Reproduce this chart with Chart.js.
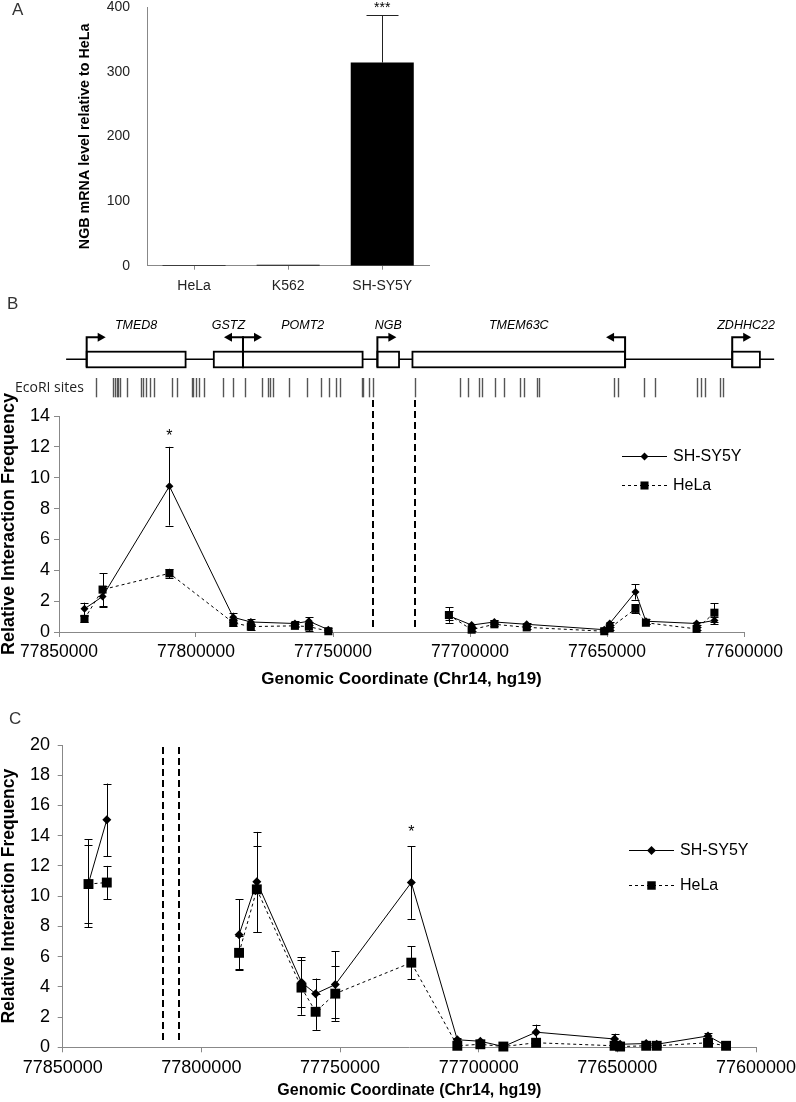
<!DOCTYPE html>
<html><head><meta charset="utf-8">
<script src="https://cdn.jsdelivr.net/npm/chart.js@4/dist/chart.umd.min.js"></script>
<style>
html,body{margin:0;padding:0;background:#fff;}
#wrap{position:relative;width:796px;height:1102px;overflow:hidden;font-family:"Liberation Sans",Arial,sans-serif;}
canvas{position:absolute;}
.lbl{position:absolute;font-size:17px;color:#333;line-height:1;}
</style></head><body>
<div id="wrap">
<canvas id="cA" style="left:0;top:0;width:440px;height:300px" width="440" height="300"></canvas>
<canvas id="cB" style="left:0;top:290px;width:796px;height:410px" width="796" height="410"></canvas>
<canvas id="cC" style="left:0;top:700px;width:796px;height:402px" width="796" height="402"></canvas>
<div class="lbl" style="left:12px;top:1px">A</div>
<div class="lbl" style="left:7px;top:295px">B</div>
<div class="lbl" style="left:9px;top:710px">C</div>
</div>
<script>
// ---------- Panel A data ----------
const cellLines = ['HeLa', 'K562', 'SH-SY5Y'];
const ngbLevel = [1, 1.6, 314];
const ngbErr = [0, 0, 73.5];

// ---------- Gene map (Chr14, hg19) ----------
const locus = [77847400, 77589000];
const geneNames = ['TMED8', 'GSTZ', 'POMT2', 'NGB', 'TMEM63C', 'ZDHHC22'];
const geneStart = [77839900, 77793500, 77782850, 77733800, 77721000, 77604300];
const geneEnd   = [77803800, 77782850, 77739200, 77725900, 77643400, 77594200];
const geneTSS   = [77839900, 77782850, 77782850, 77733800, 77643400, 77604300];
const geneStrand = ['-', '+', '-', '-', '+', '-'];
const ecoRISites = [77836500, 77830180, 77829560, 77828940, 77828360, 77827740, 77825290,
  77820070, 77819230, 77818250, 77816790, 77815330, 77808870, 77807040, 77801570, 77800990,
  77800000, 77798800, 77797080, 77790260, 77786390, 77782120, 77775800, 77773610, 77772990,
  77771790, 77765950, 77759380, 77754490, 77751350, 77748910, 77747450, 77739530, 77738940,
  77736750, 77735290, 77720070, 77703650, 77700620, 77696610, 77695730, 77690880, 77687590,
  77681750, 77680180, 77675660, 77674710, 77647450, 77645880, 77636500, 77632480, 77617050,
  77615700, 77614240, 77608760, 77607560];

// ---------- 3C fragments ----------
const fragments = [77840700, 77834100, 77809700, 77786400, 77780000, 77763900, 77758800,
  77751700, 77724300, 77707700, 77699400, 77691100, 77679300, 77651000, 77649000, 77639600,
  77635800, 77617300, 77610800];

// Panel B (NGB bait)
const baitB = [77735290, 77720070];
const shB      = [1.5, 2.3, 9.45, 0.95, 0.65, 0.55, 0.7, 0.15, null, 1.05, 0.45, 0.65, 0.5, 0.15, 0.55, 2.6, 0.7, 0.55, 0.75];
const shBErr   = [0.4, 0.65, 2.55, 0.3, 0.2, 0.15, 0.25, 0.1, null, 0.3, 0.1, 0.1, 0.1, 0.1, 0.1, 0.5, 0.15, 0.1, 0.25];
const helaB    = [0.85, 2.75, 3.8, 0.6, 0.35, 0.4, 0.35, 0.05, null, 1.1, 0.15, 0.5, 0.3, 0.05, 0.25, 1.5, 0.6, 0.2, 1.25];
const helaBErr = [0.2, 1.05, 0.3, 0.2, 0.2, 0.1, 0.3, 0.05, null, 0.5, 0.1, 0.1, 0.1, 0.05, 0.1, 0.3, 0.1, 0.1, 0.6];

// Panel C (second bait)
const baitC = [77813700, 77807950];
const shC      = [10.85, 15.05, null, 7.45, 10.95, 4.3, 3.55, 4.15, 10.9, 0.5, 0.4, 0.05, 1.0, 0.55, 0.2, 0.25, 0.2, 0.75, 0.1];
const shCErr   = [2.9, 2.4, null, 2.35, 3.3, 1.65, 1.0, 2.2, 2.4, 0.1, 0.1, 0.05, 0.5, 0.35, 0.1, 0.1, 0.1, 0.2, 0.05];
const helaC    = [10.8, 10.9, null, 6.25, 10.45, 3.95, 2.35, 3.55, 5.6, 0.1, 0.2, 0.05, 0.3, 0.1, 0.05, 0.1, 0.1, 0.3, 0.1];
const helaCErr = [2.6, 1.1, null, 1.1, 2.85, 1.8, 1.2, 1.8, 1.1, 0.05, 0.05, 0.05, 0.1, 0.05, 0.05, 0.05, 0.05, 0.1, 0.05];

const coordTicks = [77600000, 77650000, 77700000, 77750000, 77800000, 77850000];

// ---------- helpers ----------
const FONT = '"Liberation Sans", Arial, sans-serif';
Chart.defaults.font.family = FONT;
Chart.defaults.color = '#000';

function fixBox(s, w, h) {
  if (w != null) s.width = w;
  if (h != null) s.height = h;
  s.paddingLeft = 0; s.paddingRight = 0; s.paddingTop = 0; s.paddingBottom = 0;
}

function markerPath(ctx, style, r, x, y) {
  ctx.beginPath();
  if (style === 'rectRot') {
    ctx.moveTo(x, y - r); ctx.lineTo(x + r, y); ctx.lineTo(x, y + r); ctx.lineTo(x - r, y); ctx.closePath();
  } else {
    const s = r * Math.SQRT1_2;
    ctx.rect(x - s, y - s, 2 * s, 2 * s);
  }
}

const errorBars = {
  id: 'errorBars',
  afterDatasetsDraw(chart, args, o) {
    if (!o.enabled) return;
    const {ctx} = chart; const ys = chart.scales.y;
    ctx.save();
    ctx.strokeStyle = o.color || '#000'; ctx.lineWidth = 1; ctx.setLineDash([]);
    chart.data.datasets.forEach((ds, i) => {
      const meta = chart.getDatasetMeta(i);
      meta.data.forEach((el, j) => {
        let v, e;
        if (o.bar) { v = ds.data[j]; e = ds.errors[j]; }
        else { v = ds.data[j].y; e = ds.data[j].err; }
        if (v == null || !e) return;
        const x = Math.round(el.x) + 0.5;
        const yT = ys.getPixelForValue(v + e);
        const yB = o.plusOnly ? ys.getPixelForValue(v) : ys.getPixelForValue(v - e);
        ctx.beginPath();
        ctx.moveTo(x, yT); ctx.lineTo(x, yB);
        ctx.moveTo(x - o.cap, Math.round(yT) + 0.5); ctx.lineTo(x + o.cap, Math.round(yT) + 0.5);
        if (!o.plusOnly) { ctx.moveTo(x - o.cap, Math.round(yB) + 0.5); ctx.lineTo(x + o.cap, Math.round(yB) + 0.5); }
        ctx.stroke();
      });
    });
    ctx.restore();
  }
};

const stars = {
  id: 'stars',
  afterDraw(chart, args, o) {
    if (!o.text) return;
    const {ctx} = chart; const ys = chart.scales.y;
    const ds = chart.data.datasets[o.dataset];
    const el = chart.getDatasetMeta(o.dataset).data[o.index];
    let top;
    if (o.bar) top = ds.data[o.index] + ds.errors[o.index];
    else top = ds.data[o.index].y + ds.data[o.index].err;
    ctx.save();
    ctx.font = o.size + 'px ' + FONT; ctx.fillStyle = '#000';
    ctx.textAlign = 'center'; ctx.textBaseline = 'middle';
    ctx.fillText(o.text, el.x, ys.getPixelForValue(top) - o.offset);
    ctx.restore();
  }
};

const baitLines = {
  id: 'baitLines',
  afterDraw(chart, args, o) {
    if (!o.coords) return;
    const {ctx} = chart; const xs = chart.scales.x;
    ctx.save();
    ctx.strokeStyle = '#000'; ctx.lineWidth = 2; ctx.setLineDash([7, 4]);
    o.coords.forEach(c => {
      const x = Math.round(xs.getPixelForValue(c));
      ctx.beginPath(); ctx.moveTo(x, o.top); ctx.lineTo(x, chart.chartArea.bottom - o.bottomGap); ctx.stroke();
    });
    ctx.restore();
  }
};

const customLegend = {
  id: 'customLegend',
  afterDraw(chart, args, o) {
    if (!o.items) return;
    const {ctx} = chart;
    o.items.forEach((di, k) => {
      const ds = chart.data.datasets[di];
      const y = Math.round(o.y + k * o.gap) + 0.5;
      ctx.save();
      ctx.strokeStyle = '#000'; ctx.lineWidth = 1; ctx.setLineDash(ds.borderDash || []);
      ctx.beginPath(); ctx.moveTo(o.x, y); ctx.lineTo(o.x + o.len, y); ctx.stroke();
      ctx.setLineDash([]);
      ctx.fillStyle = '#000';
      markerPath(ctx, ds.pointStyle, o.markR[k], o.x + o.len / 2, y);
      ctx.fill();
      ctx.font = o.size + 'px ' + FONT; ctx.textBaseline = 'middle'; ctx.textAlign = 'left';
      ctx.fillText(ds.label, o.x + o.len + 6, y);
      ctx.restore();
    });
  }
};

const geneMap = {
  id: 'geneMap',
  afterDraw(chart, args, o) {
    if (!o.enabled) return;
    const {ctx} = chart; const xs = chart.scales.x;
    const px = v => xs.getPixelForValue(v);
    ctx.save();
    ctx.strokeStyle = '#000'; ctx.setLineDash([]);
    // backbone
    ctx.lineWidth = 1.5;
    ctx.beginPath(); ctx.moveTo(px(locus[0]), o.baseY); ctx.lineTo(px(locus[1]), o.baseY); ctx.stroke();
    // gene boxes
    ctx.lineWidth = 1.8;
    geneStart.forEach((s, i) => {
      const a = px(s), b = px(geneEnd[i]);
      const l = Math.min(a, b), w = Math.abs(b - a);
      ctx.fillStyle = '#fff';
      ctx.fillRect(l, o.boxTop, w, o.boxH);
      ctx.strokeRect(l, o.boxTop, w, o.boxH);
    });
    // TSS arrows
    ctx.lineWidth = 2; ctx.fillStyle = '#000';
    geneTSS.forEach((t, i) => {
      const x = px(t);
      const dir = Math.sign(px(t + (geneStrand[i] === '+' ? 1000 : -1000)) - x);
      ctx.beginPath();
      ctx.moveTo(x, o.boxTop + o.boxH); ctx.lineTo(x, o.arrowY);
      ctx.lineTo(x + dir * (o.arrowLen - 6), o.arrowY);
      ctx.stroke();
      ctx.beginPath();
      ctx.moveTo(x + dir * o.arrowLen, o.arrowY);
      ctx.lineTo(x + dir * (o.arrowLen - 8), o.arrowY - 4.5);
      ctx.lineTo(x + dir * (o.arrowLen - 8), o.arrowY + 4.5);
      ctx.closePath(); ctx.fill();
    });
    // gene names
    ctx.font = 'italic 12.5px ' + FONT; ctx.fillStyle = '#000';
    ctx.textAlign = 'center'; ctx.textBaseline = 'middle';
    geneNames.forEach((n, i) => {
      ctx.fillText(n, (px(geneStart[i]) + px(geneEnd[i])) / 2, o.labelY);
    });
    // EcoRI sites
    ctx.strokeStyle = '#555'; ctx.lineWidth = 1.4;
    ecoRISites.forEach(s => {
      const x = Math.round(px(s)) + 0.5;
      ctx.beginPath(); ctx.moveTo(x, o.ecoTop); ctx.lineTo(x, o.ecoBottom); ctx.stroke();
    });
    ctx.font = '14px "Open Sans", ' + FONT; ctx.fillStyle = '#222'; ctx.textAlign = 'left';
    ctx.fillText('EcoRI sites', 15, (o.ecoTop + o.ecoBottom) / 2);
    ctx.restore();
  }
};

// ---------- Panel A ----------
new Chart(document.getElementById('cA'), {
  type: 'bar',
  data: { labels: cellLines, datasets: [{ data: ngbLevel, errors: ngbErr, backgroundColor: '#000',
    borderWidth: 0, barPercentage: 0.67, categoryPercentage: 1 }] },
  options: {
    responsive: false, animation: false, events: [],
    layout: { padding: { left: 72, right: 10.7, top: 7, bottom: 0 } },
    plugins: {
      legend: { display: false }, tooltip: { enabled: false },
      errorBars: { enabled: true, bar: true, plusOnly: true, cap: 16, color: '#222' },
      stars: { text: '***', dataset: 0, index: 2, bar: true, offset: 7, size: 14 }
    },
    scales: {
      x: { grid: { display: true, drawOnChartArea: false, offset: false, tickLength: 4, color: '#888' },
        border: { color: '#888' }, ticks: { font: { size: 14 }, color: '#222', padding: 8 },
        afterFit(s) { fixBox(s, null, 34.3); } },
      y: { min: 0, max: 400, ticks: { stepSize: 100, font: { size: 14, lineHeight: 1 }, color: '#222', padding: 17 },
        grid: { display: false, drawTicks: false }, border: { color: '#888' },
        title: { display: true, text: 'NGB mRNA level relative to HeLa', font: { size: 14.3, weight: 'bold' },
          color: '#000', padding: { top: 4, bottom: 0 } },
        afterFit(s) { fixBox(s, 75, null); } }
    }
  },
  plugins: [errorBars, stars]
});

// ---------- line panels ----------
function lineChart(canvasId, sh, shErr, hela, helaErr, cfg) {
  return new Chart(document.getElementById(canvasId), {
    type: 'line',
    data: { datasets: [
      { label: 'SH-SY5Y', data: fragments.map((x, i) => ({ x, y: sh[i], err: shErr[i] })),
        borderColor: '#000', borderWidth: 1, pointStyle: 'rectRot', pointRadius: cfg.diamondR,
        pointBackgroundColor: '#000', pointBorderWidth: 0, spanGaps: false, tension: 0, clip: false, order: 1 },
      { label: 'HeLa', data: fragments.map((x, i) => ({ x, y: hela[i], err: helaErr[i] })),
        borderColor: '#000', borderWidth: 1, borderDash: [3, 3], pointStyle: 'rect', pointRadius: cfg.squareR,
        pointBackgroundColor: '#000', pointBorderWidth: 0, spanGaps: false, tension: 0, clip: false, order: 0 }
    ] },
    options: {
      responsive: false, animation: false, events: [],
      layout: { padding: { left: 0, right: cfg.padRight, top: cfg.padTop, bottom: 0 } },
      plugins: {
        legend: { display: false }, tooltip: { enabled: false },
        errorBars: { enabled: true, cap: 4, color: '#000' },
        stars: cfg.star,
        baitLines: cfg.bait,
        customLegend: cfg.legend,
        geneMap: cfg.geneMap || { enabled: false }
      },
      scales: {
        x: { type: 'linear', reverse: true, min: coordTicks[0], max: coordTicks[coordTicks.length - 1],
          afterBuildTicks(s) { s.ticks = coordTicks.map(v => ({ value: v })); },
          ticks: { callback: v => String(v), font: { size: cfg.xTickSize }, color: '#000', padding: 5,
            maxRotation: 0, autoSkip: false },
          grid: { drawOnChartArea: false, tickLength: 5, color: '#888' }, border: { color: '#888' },
          title: { display: true, text: 'Genomic Coordinate (Chr14, hg19)',
            font: { size: cfg.xTitleSize, weight: 'bold' }, padding: { top: 0, bottom: cfg.xTitlePad } },
          afterFit(s) { fixBox(s, null, cfg.xHeight); } },
        y: { min: 0, max: cfg.yMax, ticks: { stepSize: 2, font: { size: 18, lineHeight: 1 }, color: '#000', padding: cfg.yTickPad },
          grid: { drawOnChartArea: false, tickLength: 5, color: '#888' }, border: { color: '#888' },
          title: { display: true, text: 'Relative Interaction Frequency',
            font: { size: cfg.yTitleSize, weight: 'bold', lineHeight: 1 }, padding: 0 },
          afterFit(s) { fixBox(s, cfg.yWidth, null); } }
      }
    },
    plugins: [geneMap, errorBars, stars, baitLines, customLegend]
  });
}

lineChart('cB', shB, shBErr, helaB, helaBErr, {
  diamondR: 4, squareR: 5.7, padRight: 52, padTop: 126, xHeight: 68, yWidth: 59, yMax: 14,
  xTickSize: 17.5, xTitleSize: 17, xTitlePad: 10, yTickPad: 4, yTitleSize: 18,
  star: { text: '*', dataset: 0, index: 2, offset: 10, size: 16 },
  bait: { coords: baitB, top: 110, bottomGap: 5 },
  legend: { items: [0, 1], x: 622, y: 166, gap: 29, len: 45, size: 16, markR: [4, 5.7] },
  geneMap: { enabled: true, labelY: 36, arrowY: 47.3, boxTop: 61.7, boxH: 15.6, baseY: 69.3,
    ecoTop: 88, ecoBottom: 107.3, arrowLen: 19 }
});

lineChart('cC', shC, shCErr, helaC, helaCErr, {
  diamondR: 4.5, squareR: 7, padRight: 40, padTop: 45, xHeight: 54.7, yWidth: 62.7, yMax: 20,
  xTickSize: 18, xTitleSize: 16, xTitlePad: 2, yTickPad: 7.7, yTitleSize: 17.5,
  star: { text: '*', dataset: 0, index: 8, offset: 14, size: 16 },
  bait: { coords: baitC, top: 47, bottomGap: 5 },
  legend: { items: [0, 1], x: 629, y: 150, gap: 35, len: 45, size: 16, markR: [4.5, 6] }
});
</script>
</body></html>
